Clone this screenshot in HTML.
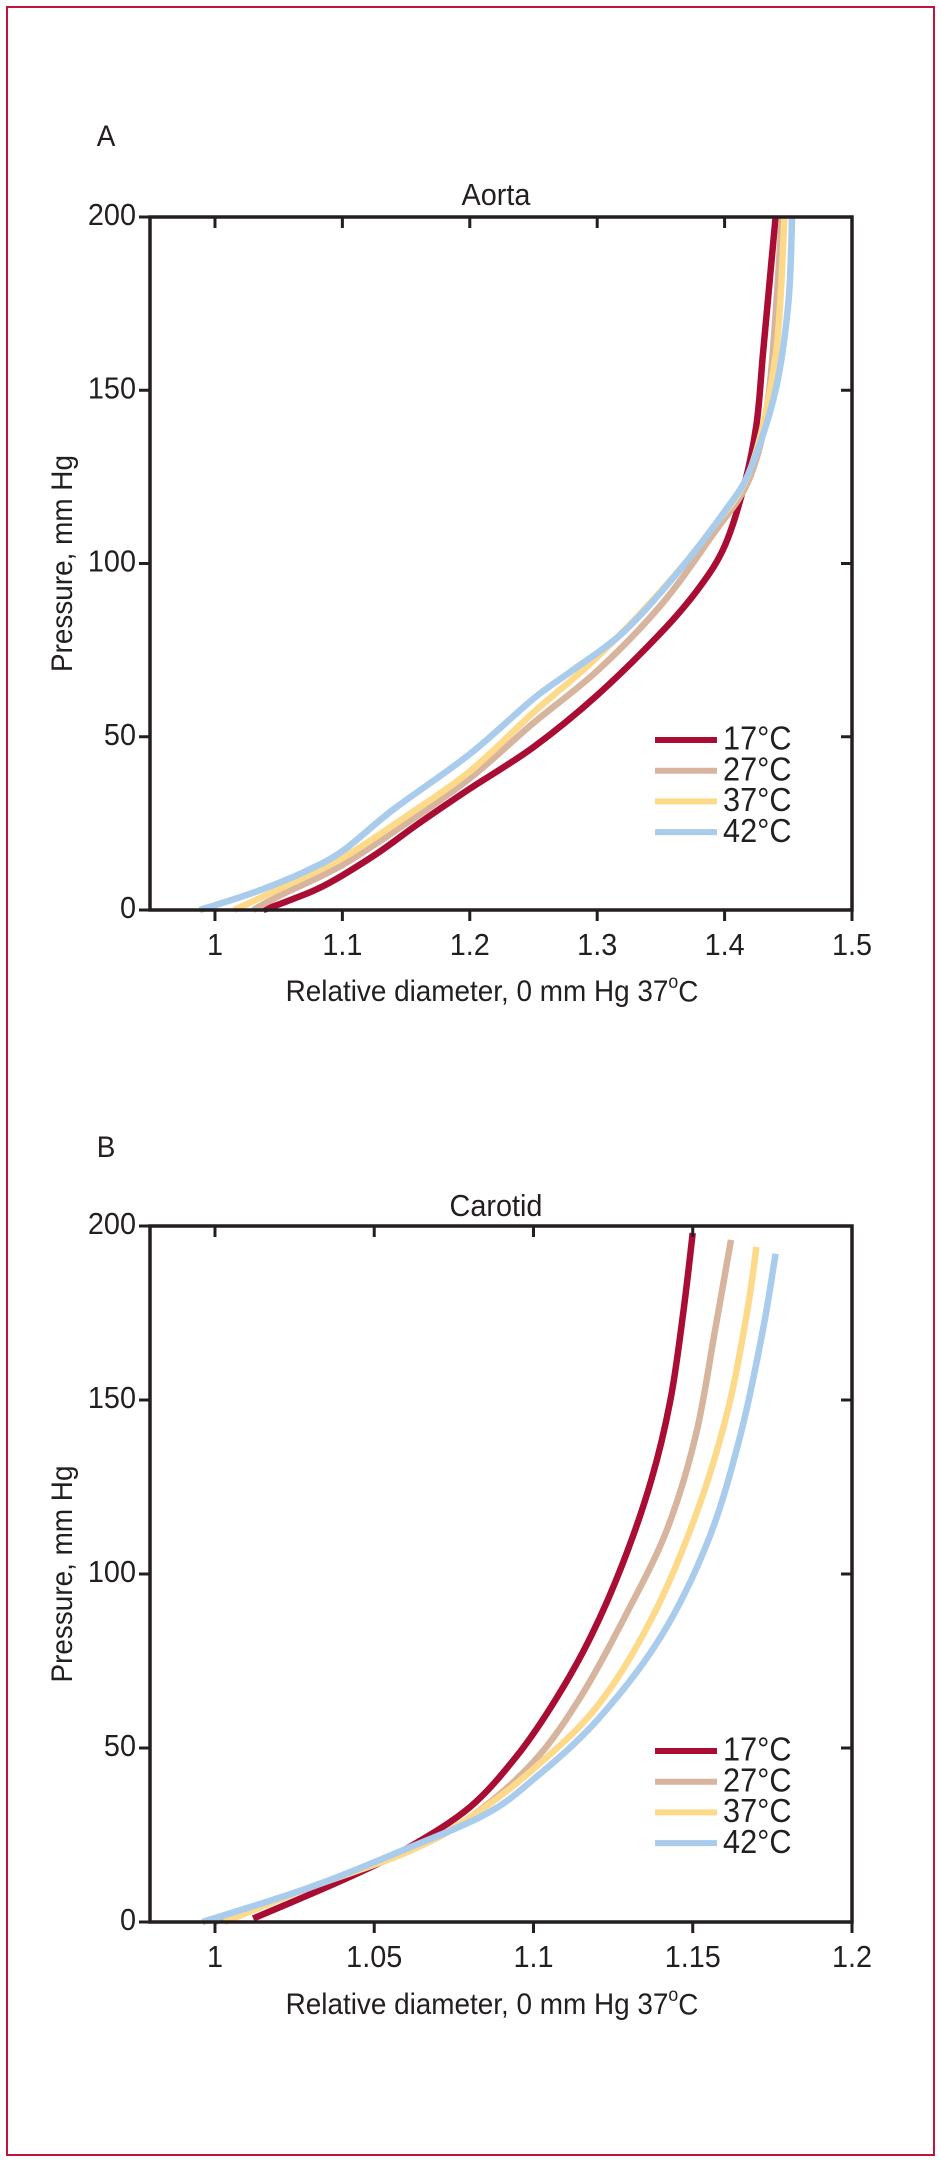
<!DOCTYPE html>
<html><head><meta charset="utf-8"><style>
html,body{margin:0;padding:0;background:#fff}
svg{display:block}
text{font-family:"Liberation Sans Narrow","Liberation Sans",sans-serif;fill:#231f20}
</style></head><body>
<svg id="fig" width="941" height="2163" viewBox="0 0 941 2163" xmlns="http://www.w3.org/2000/svg">
<rect x="7" y="7" width="927" height="2148" fill="none" stroke="#c0143c" stroke-width="2"/>
</svg>
<script>
// ---- Panel A (Aorta) data ----
const aortaT17x=[1.038,1.06,1.08,1.1,1.13,1.16,1.2,1.25,1.3,1.35,1.38,1.40,1.415,1.425,1.43,1.435,1.44];
const aortaT17y=[0,3,6,10,17,25,35,47,62,80,93,105,122,140,160,180,200];
const aortaT27x=[1.03,1.05,1.1,1.15,1.2,1.25,1.3,1.35,1.39,1.42,1.435,1.445];
const aortaT27y=[0,4,13,25,38,54,69,88,108,125,150,200];
const aortaT37x=[1.015,1.05,1.1,1.15,1.2,1.25,1.3,1.35,1.39,1.42,1.44,1.447];
const aortaT37y=[0,6,15,27,40,57,73,92,110,127,160,200];
const aortaT42x=[0.988,1.03,1.07,1.1,1.14,1.2,1.25,1.28,1.32,1.36,1.40,1.42,1.44,1.45,1.453];
const aortaT42y=[0,5,11,17,29,45,61,69,80,96,115,127,150,175,200];
const aortaXTicks=[1,1.1,1.2,1.3,1.4,1.5];
const aortaXLabels=["1","1.1","1.2","1.3","1.4","1.5"];
// ---- Panel B (Carotid) data ----
const carT17x=[1.012,1.04,1.06,1.08,1.095,1.107,1.118,1.128,1.137,1.143,1.147,1.15];
const carT17y=[1,12,21,33,48,64,82,103,127,150,175,198];
const carT27x=[1.0,1.03,1.06,1.08,1.1,1.115,1.13,1.142,1.151,1.157,1.162];
const carT27y=[0,10,20,30,46,65,90,113,140,170,196];
const carT37x=[1.003,1.03,1.06,1.08,1.1,1.12,1.137,1.151,1.161,1.167,1.17];
const carT37y=[0,10,20,30,44,62,87,117,147,175,194];
const carT42x=[0.996,1.03,1.06,1.085,1.1,1.12,1.14,1.155,1.165,1.172,1.176];
const carT42y=[0,10,21,31,41,58,82,110,140,170,192];
const carXTicks=[1,1.05,1.1,1.15,1.2];
const carXLabels=["1","1.05","1.1","1.15","1.2"];
const yTicks=[0,50,100,150,200];
const yLabels=["0","50","100","150","200"];
const seriesNames=["17°C","27°C","37°C","42°C"];
const seriesColors=["#a90d33","#d6b49d","#fdd98a","#a9cbec"];

const NS="http://www.w3.org/2000/svg";
const svg=document.getElementById('fig');
function mk(tag,attrs,parent,txt){const e=document.createElementNS(NS,tag);for(const k in attrs)e.setAttribute(k,attrs[k]);if(txt!==undefined)e.textContent=txt;(parent||svg).appendChild(e);return e;}
function ctext(parent,x,y,size,anchor,txt,rot){
 const tr='translate('+x+' '+y+')'+(rot?' rotate('+rot+')':'')+' scale(0.93 1)';
 return mk('text',{x:0,y:0,'font-size':size,'text-anchor':anchor,'dominant-baseline':'middle',transform:tr},parent,txt);
}
function smooth(pts){let d="M"+pts[0][0].toFixed(1)+","+pts[0][1].toFixed(1);
 for(let i=0;i<pts.length-1;i++){const p0=pts[Math.max(0,i-1)],p1=pts[i],p2=pts[i+1],p3=pts[Math.min(pts.length-1,i+2)];
  const c1=[p1[0]+(p2[0]-p0[0])/6,p1[1]+(p2[1]-p0[1])/6],c2=[p2[0]-(p3[0]-p1[0])/6,p2[1]-(p3[1]-p1[1])/6];
  d+=" C"+c1[0].toFixed(1)+","+c1[1].toFixed(1)+" "+c2[0].toFixed(1)+","+c2[1].toFixed(1)+" "+p2[0].toFixed(1)+","+p2[1].toFixed(1);}
 return d;}

function panel(o){
 const g=mk('g',{});
 
 
 const L=150,R=852,T=o.top,B=o.bottom;
 const sx=v=>L+(v-o.xmin)/(o.xmax-o.xmin)*(R-L);
 const sy=v=>B-v/200*(B-T);
 const pl=ctext(g,106,o.letterY,30,'middle',o.letter);
 
 
 const ti=ctext(g,(L+R)/2-5,o.titleY,31,'middle',o.title);
 
 
 o.series.forEach((s,i)=>{
  const pts=s[0].map((x,j)=>[sx(x),sy(s[1][j])]);
  const p=mk('path',{d:smooth(pts),fill:'none',stroke:seriesColors[i],'stroke-width':6.5,'stroke-linecap':'butt'},g);
  
  
 });
 const fr=mk('rect',{x:L,y:T,width:R-L,height:B-T,fill:'none',stroke:'#231f20','stroke-width':3.5},g);
 
 
 yTicks.forEach((v,i)=>{const y=sy(v);
  mk('line',{x1:L-11,x2:L,y1:y,y2:y,stroke:'#231f20','stroke-width':3},g);
  mk('line',{x1:R-11,x2:R,y1:y,y2:y,stroke:'#231f20','stroke-width':3},g);
  const t=ctext(g,L-14,y,31,'end',yLabels[i]);
  
  
 });
 o.xt.forEach((v,i)=>{const x=sx(v);
  mk('line',{x1:x,x2:x,y1:B,y2:B+11,stroke:'#231f20','stroke-width':3},g);
  mk('line',{x1:x,x2:x,y1:T,y2:T+11,stroke:'#231f20','stroke-width':3},g);
  const t=ctext(g,x,B+37,31,'middle',o.xl[i]);
  
  
 });
 const xa=ctext(g,492,o.xLabelY,30,'middle','Relative diameter, 0 mm Hg 37');
 
 
 mk('tspan',{'font-size':19,dy:-10},xa,'o');
 mk('tspan',{dy:10},xa,'C');
 const yc=(T+B)/2;
 const ya=ctext(g,64,yc,30,'middle','Pressure, mm Hg',-90);
 
 
 const lg=mk('g',{},g);
 
 
 seriesNames.forEach((n,i)=>{const y=o.legY+i*30.7;
  const e=mk('g',{},lg);
  
  
  mk('line',{x1:655,x2:717,y1:y,y2:y,stroke:seriesColors[i],'stroke-width':6},e);
  ctext(e,723,y+1,33,'start',n);
 });
}
panel({name:'aorta',letter:'A',title:'Aorta',top:217,bottom:910,xmin:0.949,xmax:1.5,letterY:138,titleY:197,xLabelY:993,legY:740,xt:aortaXTicks,xl:aortaXLabels,
 series:[[aortaT17x,aortaT17y],[aortaT27x,aortaT27y],[aortaT37x,aortaT37y],[aortaT42x,aortaT42y]]});
panel({name:'carotid',letter:'B',title:'Carotid',top:1226,bottom:1922,xmin:0.9796,xmax:1.2,letterY:1149,titleY:1208,xLabelY:2006,legY:1751,xt:carXTicks,xl:carXLabels,
 series:[[carT17x,carT17y],[carT27x,carT27y],[carT37x,carT37y],[carT42x,carT42y]]});
</script>
</body></html>
